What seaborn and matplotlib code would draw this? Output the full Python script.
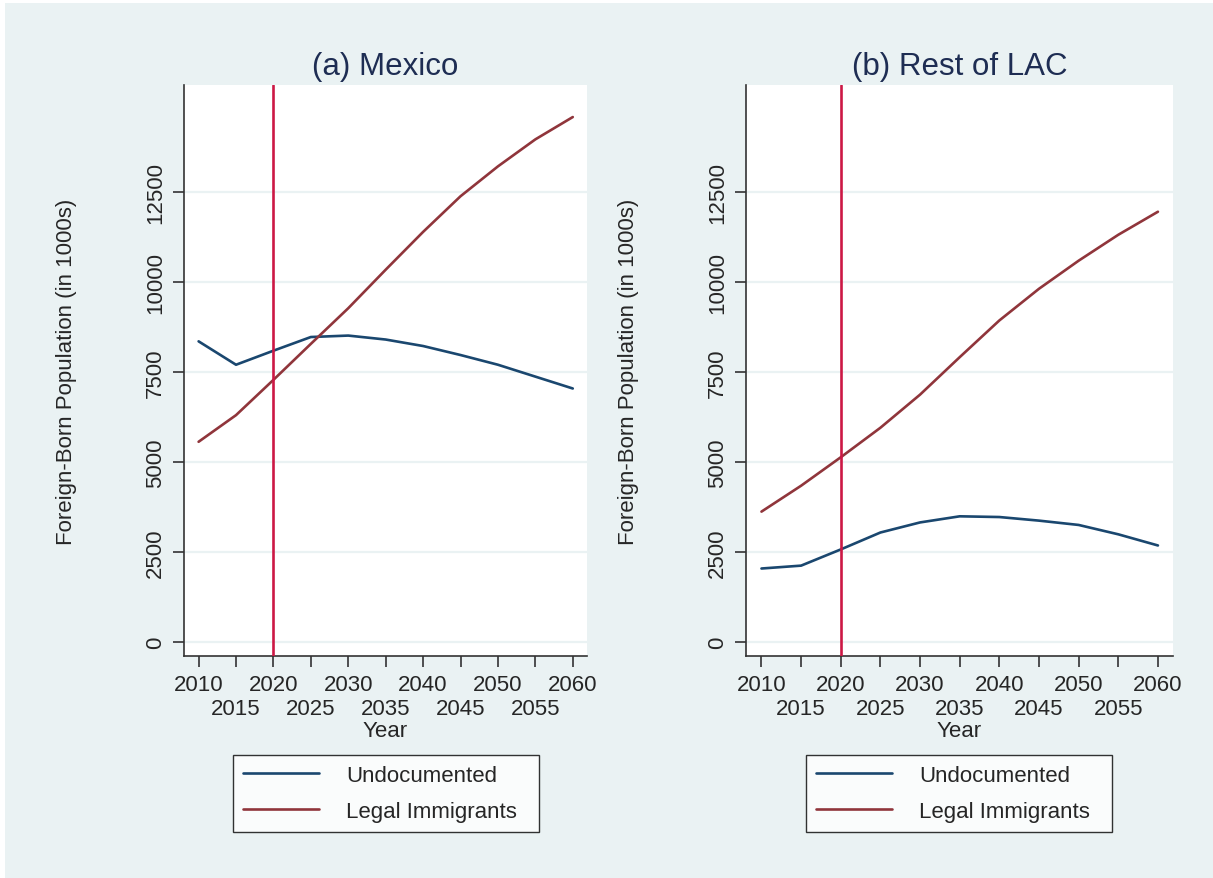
import numpy as np
import pandas as pd
import seaborn as sns
import matplotlib
matplotlib.use("Agg")
import matplotlib.pyplot as plt
from matplotlib.patches import Rectangle
from matplotlib.lines import Line2D

# Projected foreign-born population (in 1000s)
years = [2010, 2015, 2020, 2025, 2030, 2035, 2040, 2045, 2050, 2055, 2060]
mexico_undocumented = [8350, 7700, 8090, 8470, 8510, 8400, 8220, 7970, 7700, 7370, 7040]
mexico_legal = [5560, 6300, 7280, 8280, 9270, 10340, 11390, 12380, 13210, 13960, 14580]
lac_undocumented = [2040, 2120, 2570, 3040, 3320, 3490, 3470, 3370, 3250, 2990, 2680]
lac_legal = [3620, 4340, 5130, 5950, 6870, 7910, 8930, 9810, 10590, 11310, 11950]

panel_titles = ["(a) Mexico", "(b) Rest of LAC"]
series_names = ["Undocumented", "Legal Immigrants"]
y_ticks = [0, 2500, 5000, 7500, 10000, 12500]
x_ticks_upper = [2010, 2020, 2030, 2040, 2050, 2060]
x_ticks_lower = [2015, 2025, 2035, 2045, 2055]
policy_year = 2020

frames = []
for panel, und, leg in [(panel_titles[0], mexico_undocumented, mexico_legal),
                        (panel_titles[1], lac_undocumented, lac_legal)]:
    frames.append(pd.DataFrame({"Year": years, "value": und,
                                "series": series_names[0], "panel": panel}))
    frames.append(pd.DataFrame({"Year": years, "value": leg,
                                "series": series_names[1], "panel": panel}))
df = pd.concat(frames, ignore_index=True)

BG = "#EAF2F3"
NAVY = "#1A476F"
MAROON = "#90353B"
CRIMSON = "#CC1845"
TITLE_C = "#1E2D53"
AXIS_C = "#333333"
FS = 16

sns.set_theme(style="white")
plt.rcParams["font.family"] = ["Liberation Sans", "DejaVu Sans"]

W, H = 1213, 879
fig = plt.figure(figsize=(W / 100, H / 100), dpi=100)
fig.patch.set_facecolor("white")
fig.patches.append(Rectangle((5 / W, 0), 1 - 5 / W, 1 - 4 / H,
                             transform=fig.transFigure, facecolor=BG,
                             edgecolor="none", zorder=-10))

def px_axes(x0, x1, y0, y1):
    return fig.add_axes([x0 / W, 1 - y1 / H, (x1 - x0) / W, (y1 - y0) / H])

axes = [px_axes(184, 587, 86, 657), px_axes(746, 1173, 86, 657)]
legend_boxes = [(233, 539), (806, 1112)]
palette = {series_names[0]: NAVY, series_names[1]: MAROON}

for ax, title, (lx0, lx1) in zip(axes, panel_titles, legend_boxes):
    ax.set_facecolor("white")
    sub = df[df["panel"] == title]
    for yv in y_ticks:
        ax.axhline(yv, color=BG, lw=1.6, zorder=0)
    sns.lineplot(data=sub, x="Year", y="value", hue="series", palette=palette,
                 hue_order=series_names, ax=ax, lw=1.9, legend=False, zorder=3)
    ax.axvline(policy_year, color=CRIMSON, lw=1.9, zorder=4)
    ax.set_xlim(2008.05, 2061.9)
    ax.set_ylim(-390, 15470)

    # staggered year labels: decades on the first row, mid-decades below
    ax.set_xticks(x_ticks_upper)
    ax.set_xticklabels([str(y) for y in x_ticks_upper], fontsize=FS)
    ax.set_xticks(x_ticks_lower, minor=True)
    ax.set_xticklabels([str(y) for y in x_ticks_lower], minor=True, fontsize=FS)
    ax.tick_params(axis="x", which="major", direction="out", length=8,
                   width=1.2, color=AXIS_C, bottom=True, pad=5)
    ax.tick_params(axis="x", which="minor", direction="out", length=8,
                   width=1.2, color=AXIS_C, bottom=True, pad=22)

    ax.set_yticks(y_ticks)
    ax.set_yticklabels([str(v) for v in y_ticks], fontsize=FS, rotation=90,
                       va="center")
    ax.tick_params(axis="y", direction="out", length=8, width=1.2,
                   color=AXIS_C, left=True, pad=5)
    for side in ["top", "right"]:
        ax.spines[side].set_visible(False)
    for side in ["left", "bottom"]:
        ax.spines[side].set_color(AXIS_C)
        ax.spines[side].set_linewidth(1.2)
    ax.set_xlabel("Year", fontsize=FS, labelpad=1)
    ax.set_ylabel("Foreign-Born Population (in 1000s)", fontsize=FS,
                  labelpad=49)
    ax.set_title(title, fontsize=22.5, color=TITLE_C, pad=8)

    handles = [Line2D([], [], color=NAVY, lw=1.9),
               Line2D([], [], color=MAROON, lw=1.9)]
    leg = fig.legend(handles, series_names, loc="upper left", mode="expand",
                     bbox_to_anchor=(lx0 / W, 1 - 832 / H, (lx1 - lx0) / W,
                                     76 / H),
                     fontsize=FS, frameon=True, fancybox=False,
                     edgecolor="black", handlelength=3.4, handletextpad=1.25,
                     labelspacing=0.68, borderpad=0.45, borderaxespad=0)
    leg.get_frame().set_linewidth(1.0)
    leg.get_frame().set_facecolor("white")

fig.savefig("out.png", dpi=100, facecolor=fig.get_facecolor())
